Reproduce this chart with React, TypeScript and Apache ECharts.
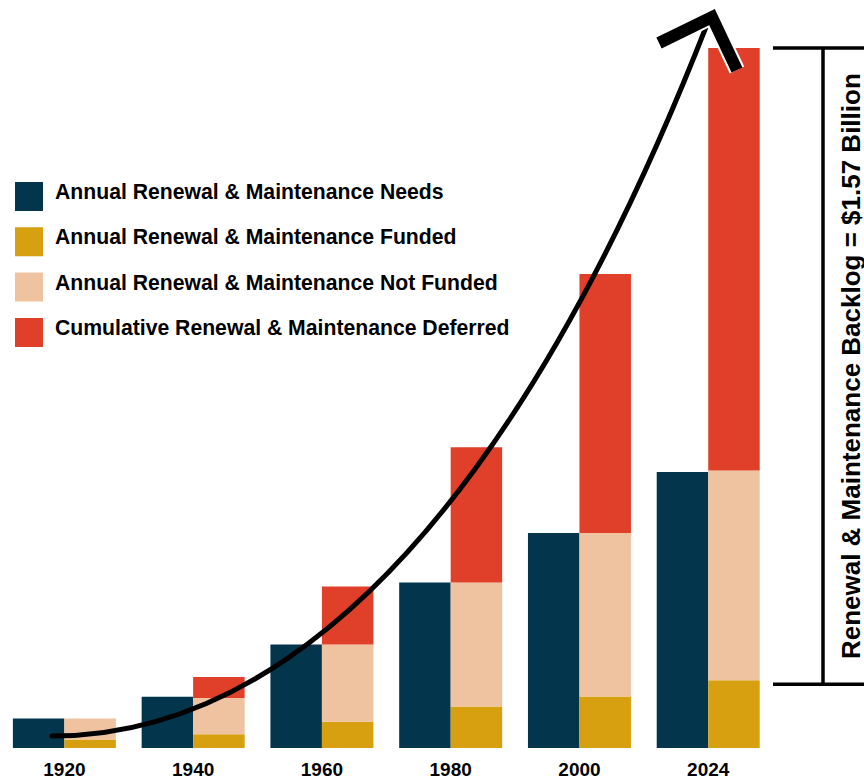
import React, { useEffect, useRef } from 'react';
import * as echarts from 'echarts';

const categories = ['1920', '1940', '1960', '1980', '2000', '2024'];
const needs = [73, 127, 257, 411, 534, 685];
const funded = [21, 34, 65, 103, 128, 168];
const notFunded = [52, 90, 192, 308, 406, 521];
const deferred = [0, 52, 144, 336, 643, 1049];

const seriesNames = [
  'Annual Renewal & Maintenance Needs',
  'Annual Renewal & Maintenance Funded',
  'Annual Renewal & Maintenance Not Funded',
  'Cumulative Renewal & Maintenance Deferred',
];
const backlogLabel = 'Renewal & Maintenance Backlog = $1.57 Billion';

const NAVY = '#03354d';
const GOLD = '#d6a011';
const PEACH = '#efc3a0';
const RED = '#e03f2a';
const FONT = '"Liberation Sans", Arial, Helvetica, sans-serif';
// square swatch sitting in the lower part of a taller box, so the label reads slightly above its centre
const LEGEND_ICON = 'path://M0,0L0.01,0M0,10L28,10L28,39L0,39Z';

export default function App() {
  const ref = useRef<HTMLDivElement>(null);

  useEffect(() => {
    const chart = echarts.init(ref.current as HTMLDivElement, null, { renderer: 'svg' });
    const barW = 51.5;
    chart.setOption({
      animation: false,
      backgroundColor: '#ffffff',
      textStyle: { fontFamily: FONT },
      grid: { left: -2.4, width: 775, top: 23, bottom: 32, containLabel: false },
      legend: {
        orient: 'vertical',
        left: 10,
        top: 167,
        padding: 5,
        itemWidth: 28,
        itemHeight: 39,
        itemGap: 6.3,
        icon: LEGEND_ICON,
        selectedMode: false,
        data: seriesNames,
        textStyle: {
          fontFamily: FONT,
          fontSize: 21.2,
          fontWeight: 'bold',
          color: '#000',
          padding: [0, 0, 0, 7],
        },
      },
      xAxis: {
        type: 'category',
        data: categories,
        axisLine: { show: false },
        axisTick: { show: false },
        axisLabel: {
          margin: 12,
          fontFamily: FONT,
          fontSize: 19,
          fontWeight: 'bold',
          color: '#000',
        },
      },
      yAxis: {
        type: 'value',
        min: 0,
        max: 1800,
        show: false,
        splitLine: { show: false },
      },
      series: [
        {
          name: seriesNames[0],
          type: 'bar',
          stack: 'needs',
          barWidth: barW,
          barGap: '0%',
          itemStyle: { color: NAVY },
          data: needs,
        },
        {
          name: seriesNames[1],
          type: 'bar',
          stack: 'total',
          barWidth: barW,
          barGap: '0%',
          itemStyle: { color: GOLD },
          data: funded,
        },
        {
          name: seriesNames[2],
          type: 'bar',
          stack: 'total',
          barWidth: barW,
          barGap: '0%',
          itemStyle: { color: PEACH },
          data: notFunded,
        },
        {
          name: seriesNames[3],
          type: 'bar',
          stack: 'total',
          barWidth: barW,
          barGap: '0%',
          itemStyle: { color: RED },
          data: deferred,
        },
      ],
    });

    const last = categories.length - 1;
    const total = funded[last] + notFunded[last] + deferred[last];
    const topPt = chart.convertToPixel({ gridIndex: 0 }, [last, total]) as number[];
    const botPt = chart.convertToPixel({ gridIndex: 0 }, [last, funded[last]]) as number[];
    const yTop = topPt[1];
    const yBot = botPt[1] + 4;
    const bx1 = 773;
    const bx2 = 866;
    const bxV = 823;

    chart.setOption({
      graphic: [
        {
          type: 'bezierCurve',
          z: 100,
          shape: { x1: 52, y1: 736, cpx1: 400, cpy1: 736, cpx2: 615, cpy2: 260, x2: 708, y2: 22 },
          style: { stroke: '#000', lineWidth: 5, fill: 'none', lineCap: 'round' },
        },
        {
          type: 'polyline',
          z: 100,
          shape: { points: [[659, 43], [712, 17], [737, 70]] },
          style: { stroke: '#ffffff', lineWidth: 16, fill: 'none', lineJoin: 'miter' },
        },
        {
          type: 'polyline',
          z: 101,
          shape: { points: [[659, 43], [712, 17], [737, 70]] },
          style: { stroke: '#000', lineWidth: 12, fill: 'none', lineJoin: 'miter' },
        },
        {
          type: 'line',
          z: 100,
          shape: { x1: bx1, y1: yTop, x2: bx2, y2: yTop },
          style: { stroke: '#000', lineWidth: 3.5 },
        },
        {
          type: 'line',
          z: 100,
          shape: { x1: bx1, y1: yBot, x2: bx2, y2: yBot },
          style: { stroke: '#000', lineWidth: 3.5 },
        },
        {
          type: 'line',
          z: 100,
          shape: { x1: bxV, y1: yTop, x2: bxV, y2: yBot },
          style: { stroke: '#000', lineWidth: 3.5 },
        },
        {
          type: 'text',
          z: 100,
          x: 851,
          y: (yTop + yBot) / 2,
          rotation: Math.PI / 2,
          style: {
            text: backlogLabel,
            fontFamily: FONT,
            fontSize: 26,
            fontWeight: 'bold',
            fill: '#000',
            align: 'center',
            verticalAlign: 'middle',
          },
        },
      ],
    });

    return () => {
      chart.dispose();
    };
  }, []);

  return (
    <div
      ref={ref}
      style={{ position: 'absolute', left: 0, top: 0, width: 864, height: 780 }}
    />
  );
}
